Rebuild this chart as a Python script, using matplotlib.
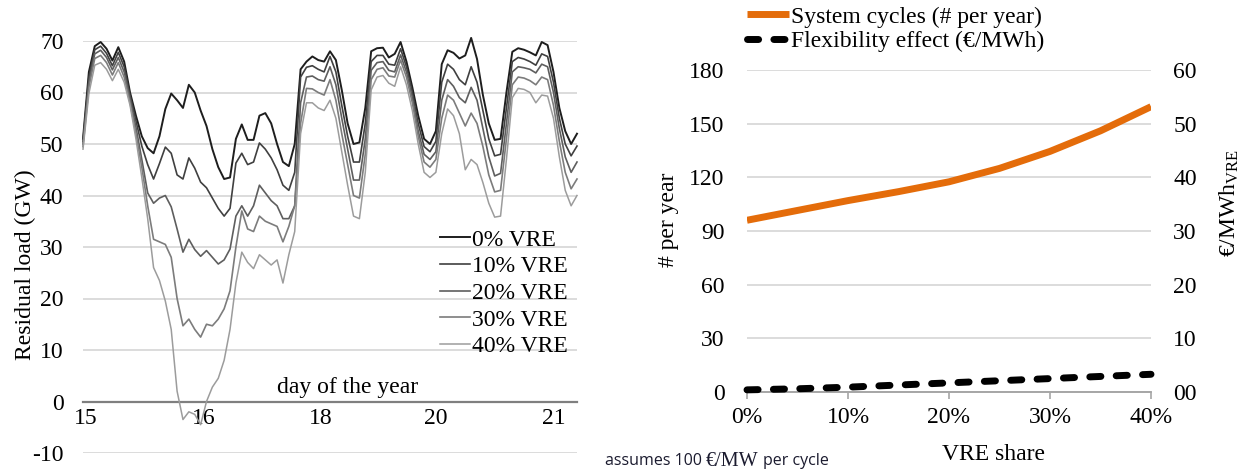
import matplotlib
matplotlib.use("Agg")
import matplotlib.pyplot as plt

plt.rcParams['font.family'] = ['Liberation Serif', 'DejaVu Serif']
plt.rcParams['mathtext.fontset'] = 'custom'
plt.rcParams['mathtext.rm'] = 'Liberation Serif'
plt.rcParams['mathtext.it'] = 'Liberation Serif:italic'

# ---------------- data: left panel (hourly residual load, GW) ----------------
hours = list(range(0, 169, 2))
load_0 = [51, 64, 69, 69.8, 68.5, 66.2, 68.8, 66, 60, 55.5,
          51.5, 49.2, 48.2, 51.5, 56.8, 59.8, 58.5, 57, 61.5, 60,
          56.5, 53.5, 49, 45.5, 43.2, 43.5, 51, 53.8, 50.8, 50.8,
          55.5, 56, 54, 50, 46.5, 45.7, 50, 64.5, 66, 67,
          66.3, 66, 68, 66.3, 60.5, 54, 50, 50.3, 57, 68,
          68.6, 68.7, 66.8, 67.5, 69.8, 66, 61, 55.5, 51, 50,
          52.5, 65.5, 68.2, 67.7, 66.6, 67.2, 70.6, 66.5, 59.5, 54,
          50.8, 51, 60, 67.9, 68.6, 68.3, 67.8, 67.2, 69.8, 69.2,
          64, 57, 52.5, 50, 52]
load_10 = [50.5, 63, 68.3, 69, 67.6, 65.2, 67.8, 65, 59.5, 54.5,
           49.6, 46, 43.2, 46.2, 49.4, 48.2, 44, 43.2, 47.3, 45.3,
           42.6, 41.5, 39.5, 37.5, 36, 37.5, 46.3, 48.2, 46, 46.5,
           50.2, 49, 47.3, 45, 42, 41, 44.5, 63, 64.9, 65.2,
           64.5, 64, 67, 64, 57.5, 51.5, 46.5, 46.5, 54, 66,
           67.2, 67.2, 65.5, 65.3, 68.5, 65, 60, 54, 49.5, 48.5,
           50.5, 62, 65.5, 64.5, 62.5, 61.5, 65, 62, 56.5, 51,
           47.7, 48, 57, 66, 66.8, 66.5, 66, 65.3, 67.5, 67,
           62, 55, 50, 47.7, 49.6]
load_20 = [50, 62, 67.5, 68.2, 66.8, 64.4, 66.8, 64, 58.8, 53.3,
           47, 40.5, 38.5, 39.5, 40, 37.8, 33.5, 29, 31.5, 29.5,
           28.2, 29.3, 28, 26.7, 27.5, 29.6, 36, 38, 36, 38,
           42, 40.5, 39, 38, 35.5, 35.5, 38, 58, 63, 63.2,
           62.5, 62.2, 65, 61.5, 55, 49, 43, 43, 51, 64.3,
           65.8, 66, 64.3, 64, 67.3, 64, 59, 52.5, 48, 47,
           48.5, 58.5, 62.5, 61.2, 59, 58, 61, 58.5, 53, 47.5,
           43.8, 44.3, 54, 64, 65, 64.8, 64.5, 63.8, 65.5, 65,
           60, 53, 47.5, 44.5, 46.5]
load_30 = [49.5, 61, 66.6, 67.2, 65.8, 63.4, 65.8, 63, 58, 52,
           45.5, 38, 31.5, 31, 30.5, 28, 20, 14.7, 16, 14,
           12.5, 15, 14.7, 16, 18, 21.5, 30, 37, 33.5, 33,
           36, 35, 34.5, 34, 31, 34, 38, 54, 60.8, 60.7,
           60, 59.5, 62.5, 58.5, 52, 46, 40, 39.5, 48, 62.5,
           64.5, 64.8, 63.2, 63, 66.3, 63, 58, 51.5, 46.5, 45.5,
           47, 55, 59.5, 58.5, 56, 53.5, 56, 54, 49.5, 44,
           40.7, 41, 51, 61.5, 63, 62.8, 62.3, 61.5, 63, 62.5,
           57.5, 50.5, 44.5, 41.3, 43.2]
load_40 = [49, 59.8, 65.3, 65.8, 64.5, 62.3, 64.5, 62, 57.5, 51,
           43.5, 35.5, 26, 23.5, 19.5, 14, 2, -3.5, -2, -2.5,
           -4.5, 0, 2.8, 4.5, 8, 14, 23, 29, 27, 25.8,
           28.5, 27.5, 26.5, 27.5, 23, 28.5, 33, 52, 58, 58,
           57, 56.5, 58.5, 55, 48.5, 42, 36, 35.5, 44.5, 60.5,
           63, 63.3, 61.8, 61.2, 65, 61.5, 56.5, 50, 44.5, 43.5,
           44.5, 52, 56.8, 55.5, 52, 45, 47, 46, 42.5, 38.5,
           35.8, 36, 47, 59, 60.8, 60.6, 60, 58, 59.5, 59.3,
           55, 47.5, 41, 38, 40]
series_labels = ['0% VRE', '10% VRE', '20% VRE', '30% VRE', '40% VRE']
day_tick_hours = [1, 41, 81, 120, 160]
day_tick_labels = ['15', '16', '18', '20', '21']
load_ticks = [-10, 0, 10, 20, 30, 40, 50, 60, 70]

# ---------------- data: right panel ----------------
vre_share = [0.0, 0.05, 0.10, 0.15, 0.20, 0.25, 0.30, 0.35, 0.40]
system_cycles = [96, 101.5, 107, 112, 117.5, 125, 134.5, 146, 159.5]
flex_effect = [0.4, 0.6, 0.9, 1.3, 1.7, 2.1, 2.5, 2.9, 3.3]
share_ticks = [0.0, 0.1, 0.2, 0.3, 0.4]
share_tick_labels = ['0%', '10%', '20%', '30%', '40%']
cycle_ticks = [0, 30, 60, 90, 120, 150, 180]
eur_ticks = [0, 10, 20, 30, 40, 50, 60]
eur_tick_labels = ['00', '10', '20', '30', '40', '50', '60']

W, H = 1247, 470
fig = plt.figure(figsize=(W / 100, H / 100), dpi=100)

FS = 17
GRID = '#d9d9d9'

def fx(px):
    return px / W

def fy(py):
    return 1 - py / H

# ---------------- left panel ----------------
ax1 = fig.add_axes([fx(83), fy(453), (577 - 83) / W, (453 - 41) / H])
colors = ['#1e1e1e', '#404040', '#5e5e5e', '#7c7c7c', '#9c9c9c']
widths = [1.4, 1.2, 1.2, 1.2, 1.1]
for ys, c, lw, lab in zip([load_0, load_10, load_20, load_30, load_40], colors, widths, series_labels):
    ax1.plot(hours, ys, color=c, lw=lw, label=lab, clip_on=False, zorder=3)
ax1.set_xlim(0, 168)
ax1.set_ylim(-10, 70)
ax1.set_yticks(load_ticks)
ax1.set_yticklabels([str(t) for t in load_ticks], fontsize=FS)
ax1.grid(axis='y', color=GRID, lw=1.3)
ax1.set_axisbelow(True)
for s in ['left', 'right', 'top']:
    ax1.spines[s].set_visible(False)
ax1.spines['bottom'].set_position(('data', 0))
ax1.spines['bottom'].set_color('#7f7f7f')
ax1.spines['bottom'].set_linewidth(1.6)
ax1.set_xticks(day_tick_hours)
ax1.set_xticklabels(day_tick_labels, fontsize=FS)
ax1.tick_params(axis='x', length=0, pad=5)
ax1.tick_params(axis='y', length=0, pad=14)
fig.text(fx(25), fy(265), 'Residual load (GW)', fontsize=FS, rotation=90,
         ha='center', va='center')
fig.text(fx(348), fy(388), 'day of the year', fontsize=FS, ha='center', va='center')
ax1.legend(loc='upper left', bbox_to_anchor=(fx(440), fy(229)),
           bbox_transform=fig.transFigure, frameon=False, fontsize=FS,
           handlelength=1.25, handletextpad=0.1, labelspacing=0.22,
           borderpad=0, borderaxespad=0)

# ---------------- right panel ----------------
ax2 = fig.add_axes([fx(747), fy(392), (1151 - 747) / W, (392 - 70) / H])
ax3 = ax2.twinx()
l1, = ax2.plot(vre_share, system_cycles, color='#E46C0A', lw=5, solid_capstyle='butt',
               label='System cycles (# per year)', zorder=3)
l2, = ax3.plot(vre_share, flex_effect, color='black', lw=5, dashes=(1.6, 2.2),
               dash_capstyle='round', label='Flexibility effect (€/MWh)', zorder=3, clip_on=False)
ax2.set_xlim(0, 0.4)
ax2.set_ylim(0, 180)
ax3.set_ylim(0, 60)
ax2.set_yticks(cycle_ticks)
ax2.set_yticklabels([str(t) for t in cycle_ticks], fontsize=FS)
ax3.set_yticks(eur_ticks)
ax3.set_yticklabels(eur_tick_labels, fontsize=FS)
ax2.set_xticks(share_ticks)
ax2.set_xticklabels(share_tick_labels, fontsize=FS)
ax2.grid(axis='y', color=GRID, lw=1.3)
ax2.set_axisbelow(True)
for a in (ax2, ax3):
    for s in ['left', 'right', 'top']:
        a.spines[s].set_visible(False)
    a.spines['bottom'].set_color('#a6a6a6')
    a.spines['bottom'].set_linewidth(1.2)
ax2.tick_params(axis='x', length=5, width=1.2, color='#a6a6a6', pad=6)
ax2.tick_params(axis='y', length=0, pad=16)
ax3.tick_params(axis='y', length=0, pad=16)
fig.text(fx(993), fy(455), 'VRE share', fontsize=FS, ha='center', va='center')
fig.text(fx(668), fy(220), '# per year', fontsize=FS, rotation=90, ha='center', va='center')
fig.text(fx(1229), fy(203), '€/MWh$_{\\mathrm{VRE}}$', fontsize=FS, rotation=90,
         ha='center', va='center')
fig.legend([l1, l2], [l1.get_label(), l2.get_label()], loc='upper left',
           bbox_to_anchor=(fx(747), fy(6)), frameon=False, fontsize=FS,
           handlelength=1.8, handletextpad=0.05, labelspacing=0.12,
           borderpad=0, borderaxespad=0)

# ---------------- footnote ----------------
fig.canvas.draw()
r = fig.canvas.get_renderer()
y_fn = fy(461)
t1 = fig.text(fx(605), y_fn, 'assumes 100', family='Open Sans', fontsize=11.5,
              va='center', color='#1b1b2f')
bb = t1.get_window_extent(r)
t2 = fig.text((bb.x1 + 4) / W, y_fn, '€/MW', fontsize=14.5, va='center', color='#1b1b2f')
bb2 = t2.get_window_extent(r)
t3 = fig.text((bb2.x1 + 4) / W, y_fn, 'per cycle', family='Open Sans', fontsize=11.5,
              va='center', color='#1b1b2f')

fig.savefig('out.png', dpi=100)
